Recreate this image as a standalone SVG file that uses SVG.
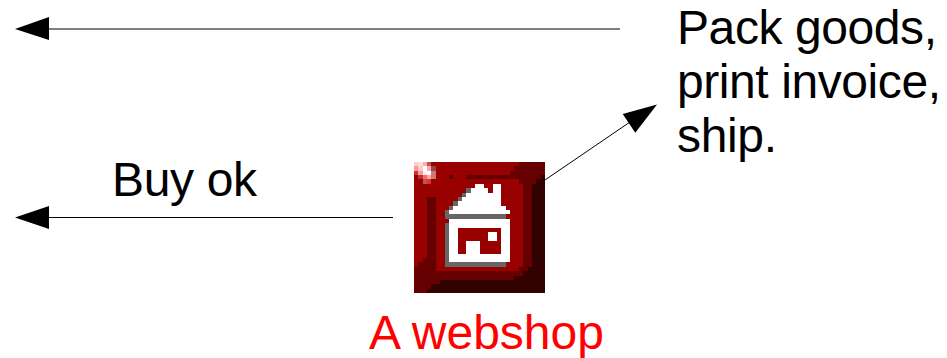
<svg xmlns="http://www.w3.org/2000/svg" width="947" height="358" viewBox="0 0 947 358">
<style>
text{font-family:"Liberation Sans",Arial,sans-serif;font-size:48px;fill:#000}
.wire{stroke:#000;stroke-width:1;fill:none}
.head{fill:#000}
.r{fill:#990000}.d{fill:#660000}.k{fill:#330000}.w{fill:#fff}.g{fill:#666}
</style>
<rect width="947" height="358" fill="#fff"/>
<g id="connectors">
<line class="wire" x1="620" y1="29" x2="48" y2="29"/>
<polygon class="head" points="15,29 49,17 49,40"/>
<line class="wire" x1="393" y1="217.500" x2="48" y2="217.500"/>
<polygon class="head" points="15,217.500 49,206 49,229"/>
<line class="wire" x1="545" y1="180" x2="630" y2="122"/>
<polygon class="head" points="657,104.500 622.700,114 635.300,132.700"/>
</g>
<g id="webshop">
<g transform="translate(414 162) scale(4.3667)" shape-rendering="crispEdges">
<rect class="r" width="30" height="30"/>
<path class="d" d="M24 0H30V3H29V4H28V5H27V24H26V25H25V26H23V27H6V28H4V29H3V30H0V24H1V23H2V22H3V8H5V25H24V24H25V5H24V4H12V3H22V2H23V1H24Z"/>
<rect class="d" x="8" y="3" width="1" height="1"/>
<path class="k" d="M29 3H30V30H3V29H4V28H6V27H23V26H25V25H26V24H27V5H28V4H29Z"/>
<path class="w" d="M14 5H16V6H17V7H18V5H20V10H21V11H22V12H8V11H9V10H10V9H11V8H12V7H13V6H14Z"/>
<path class="g" d="M12 6H13V7H12ZM11 7H12V8H11ZM10 8H11V9H10ZM9 9H10V10H9ZM8 10H9V11H8ZM7 11H8V12H21V13H7Z"/>
<path class="g" d="M7 14H8V23H21V24H7Z"/>
<path class="w" fill-rule="evenodd" d="M8 13H22V23H8ZM10 15V21H12V18H15V21H20V15ZM17 16H19V18H17Z"/>
<rect fill="#ffcccc" x="0" y="0" width="1" height="1"/>
<rect fill="#ff9999" x="0" y="1" width="1" height="1"/>
<rect fill="#cc3333" x="0" y="2" width="1" height="1"/>
<rect fill="#ffdddd" x="1" y="0" width="1" height="1"/>
<rect fill="#ffcccc" x="1" y="1" width="1" height="1"/>
<rect fill="#ff9999" x="1" y="2" width="1" height="1"/>
<rect fill="#bb3333" x="1" y="3" width="1" height="1"/>
<rect fill="#ffaaaa" x="2" y="0" width="1" height="1"/>
<rect fill="#fff" x="2" y="1" width="1" height="1"/>
<rect fill="#ff6666" x="2" y="3" width="1" height="1"/>
<rect fill="#ffeeee" x="2" y="2" width="1" height="1"/>
<rect fill="#bb5555" x="2" y="4" width="1" height="1"/>
<rect fill="#bb5555" x="3" y="0" width="1" height="1"/>
<rect fill="#ffaaaa" x="3" y="1" width="1" height="1"/>
<rect fill="#fff" x="3" y="2" width="1" height="1"/>
<rect fill="#ffaaaa" x="3" y="3" width="1" height="1"/>
<rect fill="#dd3333" x="3" y="4" width="1" height="1"/>
<rect fill="#994444" x="4" y="1" width="1" height="1"/>
<rect fill="#cc7777" x="4" y="2" width="1" height="1"/>
<rect fill="#cc7777" x="4" y="3" width="1" height="1"/>
</g>
<text x="369" y="348.500" textLength="235" style="fill:#ff0000">A webshop</text>
</g>
<g id="pack-goods">
<text x="677" y="44" textLength="260">Pack goods,</text>
<text x="677" y="98" textLength="264">print invoice,</text>
<text x="677" y="152" textLength="100">ship.</text>
</g>
<g id="buy-ok">
<text x="112" y="196" textLength="145">Buy ok</text>
</g>
</svg>
